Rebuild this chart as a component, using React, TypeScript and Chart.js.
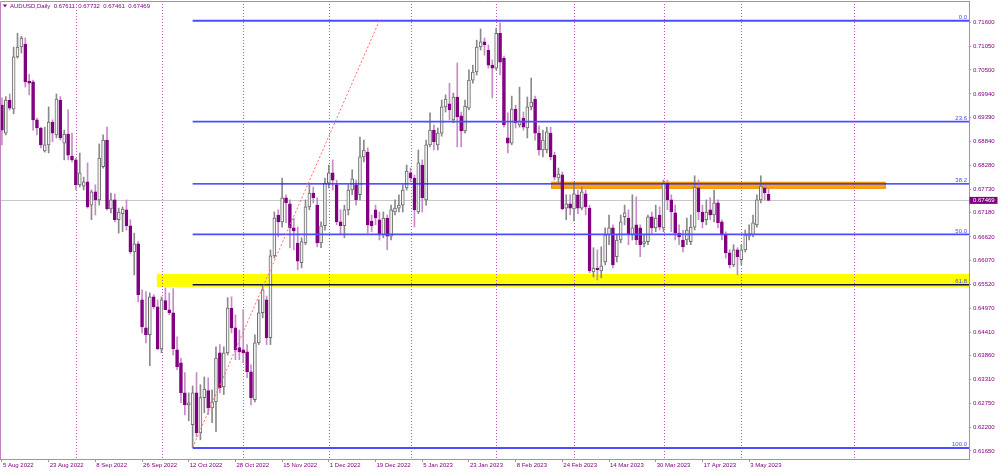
import React, { useEffect, useRef } from 'react';
import { Chart, registerables } from 'chart.js';

Chart.register(...registerables);

// ---------------- data ----------------
const symbolTitle = 'AUDUSD,Daily';
const headerValues = ['0.67611', '0.67732', '0.67461', '0.67469'];

const opens = [
  0.6968, 0.6903, 0.6980, 0.6959, 0.7080, 0.7103, 0.7110, 0.7024, 0.7022, 0.6934,
  0.6915, 0.6862, 0.6876, 0.6929, 0.6899, 0.6980, 0.6880, 0.6901, 0.6850, 0.6841,
  0.6783, 0.6780, 0.6790, 0.6736, 0.6767, 0.6748, 0.6825, 0.6887, 0.6727, 0.6748,
  0.6702, 0.6716, 0.6725, 0.6688, 0.6627, 0.6646, 0.6516, 0.6451, 0.6435, 0.6523,
  0.6500, 0.6402, 0.6514, 0.6493, 0.6486, 0.6400, 0.6370, 0.6300, 0.6272, 0.6226,
  0.6300, 0.6207, 0.6289, 0.6305, 0.6265, 0.6279, 0.6393, 0.6314, 0.6393, 0.6497,
  0.6451, 0.6405, 0.6400, 0.6395, 0.6349, 0.6284, 0.6416, 0.6486, 0.6516, 0.6428,
  0.6618, 0.6713, 0.6697, 0.6753, 0.6739, 0.6683, 0.6648, 0.6602, 0.6648, 0.6732,
  0.6764, 0.6736, 0.6648, 0.6688, 0.6787, 0.6811, 0.6783, 0.6697, 0.6688, 0.6725,
  0.6771, 0.6783, 0.6760, 0.6848, 0.6859, 0.6699, 0.6725, 0.6702, 0.6667, 0.6706,
  0.6664, 0.6720, 0.6729, 0.6736, 0.6776, 0.6811, 0.6799, 0.6720, 0.6829, 0.6748,
  0.6876, 0.6910, 0.6876, 0.6903, 0.6964, 0.6971, 0.6934, 0.6987, 0.6943, 0.6908,
  0.6961, 0.7026, 0.7045, 0.7103, 0.7115, 0.7096, 0.7061, 0.7054, 0.7135, 0.7077,
  0.6892, 0.6880, 0.6959, 0.6922, 0.6938, 0.6915, 0.6964, 0.6982, 0.6903, 0.6864,
  0.6864, 0.6903, 0.6852, 0.6799, 0.6806, 0.6729, 0.6739, 0.6727, 0.6760, 0.6729,
  0.6762, 0.6729, 0.6581, 0.6590, 0.6583, 0.6604, 0.6667, 0.6683, 0.6616, 0.6655,
  0.6709, 0.6706, 0.6667, 0.6690, 0.6683, 0.6646, 0.6651, 0.6709, 0.6683, 0.6713,
  0.6683, 0.6787, 0.6748, 0.6718, 0.6671, 0.6655, 0.6655, 0.6651, 0.6685, 0.6776,
  0.6720, 0.6702, 0.6725, 0.6713, 0.6741, 0.6697, 0.6667, 0.6625, 0.6597, 0.6632,
  0.6609, 0.6632, 0.6664, 0.6667, 0.6690, 0.6748, 0.6776, 0.67611,
];
const highs = [
  0.6985, 0.6988, 0.6994, 0.7103, 0.7135, 0.7128, 0.7124, 0.7040, 0.7026, 0.6938,
  0.6917, 0.6917, 0.6964, 0.6934, 0.6994, 0.6988, 0.6910, 0.6957, 0.6903, 0.6845,
  0.6857, 0.6801, 0.6834, 0.6771, 0.6783, 0.6878, 0.6899, 0.6917, 0.6764, 0.6762,
  0.6729, 0.6732, 0.6748, 0.6702, 0.6671, 0.6651, 0.6539, 0.6535, 0.6532, 0.6528,
  0.6516, 0.6523, 0.6544, 0.6532, 0.6542, 0.6430, 0.6381, 0.6347, 0.6300, 0.6316,
  0.6347, 0.6319, 0.6337, 0.6335, 0.6307, 0.6407, 0.6412, 0.6407, 0.6521, 0.6523,
  0.6481, 0.6446, 0.6493, 0.6412, 0.6365, 0.6435, 0.6516, 0.6551, 0.6525, 0.6632,
  0.6720, 0.6725, 0.6799, 0.6760, 0.6748, 0.6706, 0.6685, 0.6660, 0.6748, 0.6783,
  0.6778, 0.6753, 0.6697, 0.6799, 0.6829, 0.6841, 0.6794, 0.6725, 0.6736, 0.6783,
  0.6818, 0.6794, 0.6894, 0.6887, 0.6869, 0.6713, 0.6736, 0.6720, 0.6720, 0.6713,
  0.6736, 0.6748, 0.6760, 0.6783, 0.6829, 0.6822, 0.6806, 0.6864, 0.6841, 0.6887,
  0.6950, 0.6922, 0.6915, 0.6980, 0.6992, 0.7019, 0.6996, 0.7066, 0.6952, 0.6980,
  0.7050, 0.7061, 0.7119, 0.7145, 0.7124, 0.7108, 0.7073, 0.7147, 0.7159, 0.7082,
  0.6950, 0.6989, 0.6968, 0.7010, 0.6952, 0.6987, 0.7031, 0.6989, 0.6920, 0.6910,
  0.6917, 0.6917, 0.6859, 0.6822, 0.6813, 0.6760, 0.6760, 0.6790, 0.6771, 0.6778,
  0.6771, 0.6736, 0.6637, 0.6632, 0.6639, 0.6683, 0.6713, 0.6690, 0.6667, 0.6713,
  0.6736, 0.6725, 0.6760, 0.6755, 0.6690, 0.6667, 0.6713, 0.6720, 0.6736, 0.6732,
  0.6794, 0.6794, 0.6760, 0.6736, 0.6690, 0.6678, 0.6706, 0.6713, 0.6804, 0.6794,
  0.6736, 0.6748, 0.6753, 0.6771, 0.6748, 0.6702, 0.6674, 0.6632, 0.6644, 0.6637,
  0.6644, 0.6678, 0.6690, 0.6713, 0.6760, 0.6804, 0.6783, 0.67732,
];
const lows = [
  0.6876, 0.6899, 0.6957, 0.6948, 0.7077, 0.7089, 0.7010, 0.6992, 0.6910, 0.6899,
  0.6869, 0.6859, 0.6857, 0.6883, 0.6892, 0.6887, 0.6841, 0.6841, 0.6836, 0.6771,
  0.6778, 0.6771, 0.6729, 0.6702, 0.6713, 0.6736, 0.6822, 0.6725, 0.6718, 0.6697,
  0.6671, 0.6674, 0.6678, 0.6623, 0.6574, 0.6511, 0.6439, 0.6416, 0.6363, 0.6495,
  0.6400, 0.6393, 0.6493, 0.6481, 0.6388, 0.6354, 0.6277, 0.6249, 0.6235, 0.6173,
  0.6198, 0.6191, 0.6254, 0.6249, 0.6231, 0.6210, 0.6300, 0.6296, 0.6388, 0.6439,
  0.6377, 0.6377, 0.6370, 0.6335, 0.6272, 0.6279, 0.6412, 0.6474, 0.6412, 0.6412,
  0.6613, 0.6662, 0.6685, 0.6695, 0.6637, 0.6632, 0.6586, 0.6590, 0.6644, 0.6725,
  0.6741, 0.6639, 0.6637, 0.6678, 0.6776, 0.6771, 0.6690, 0.6667, 0.6660, 0.6713,
  0.6760, 0.6736, 0.6748, 0.6836, 0.6671, 0.6674, 0.6690, 0.6655, 0.6660, 0.6632,
  0.6655, 0.6713, 0.6720, 0.6720, 0.6771, 0.6790, 0.6685, 0.6716, 0.6720, 0.6736,
  0.6871, 0.6864, 0.6864, 0.6896, 0.6952, 0.6934, 0.6927, 0.6871, 0.6871, 0.6903,
  0.6957, 0.7019, 0.7038, 0.7096, 0.7084, 0.7054, 0.6985, 0.7050, 0.7038, 0.6917,
  0.6857, 0.6876, 0.6915, 0.6917, 0.6910, 0.6892, 0.6957, 0.6887, 0.6852, 0.6848,
  0.6857, 0.6841, 0.6794, 0.6787, 0.6725, 0.6702, 0.6713, 0.6699, 0.6716, 0.6725,
  0.6713, 0.6579, 0.6569, 0.6562, 0.6567, 0.6597, 0.6644, 0.6590, 0.6604, 0.6648,
  0.6690, 0.6644, 0.6655, 0.6644, 0.6616, 0.6639, 0.6644, 0.6671, 0.6674, 0.6678,
  0.6674, 0.6725, 0.6674, 0.6655, 0.6644, 0.6627, 0.6644, 0.6644, 0.6678, 0.6702,
  0.6683, 0.6690, 0.6702, 0.6697, 0.6683, 0.6655, 0.6613, 0.6590, 0.6593, 0.6574,
  0.6597, 0.6627, 0.6655, 0.6662, 0.6685, 0.6741, 0.6748, 0.67461,
];
const closes = [
  0.6910, 0.6980, 0.6961, 0.7080, 0.7103, 0.7124, 0.7022, 0.7019, 0.6934, 0.6915,
  0.6876, 0.6876, 0.6929, 0.6903, 0.6982, 0.6892, 0.6901, 0.6852, 0.6841, 0.6783,
  0.6811, 0.6790, 0.6732, 0.6767, 0.6748, 0.6845, 0.6887, 0.6727, 0.6748, 0.6702,
  0.6720, 0.6727, 0.6688, 0.6627, 0.6646, 0.6528, 0.6453, 0.6435, 0.6523, 0.6500,
  0.6402, 0.6516, 0.6493, 0.6486, 0.6402, 0.6361, 0.6300, 0.6272, 0.6277, 0.6300,
  0.6207, 0.6289, 0.6309, 0.6265, 0.6279, 0.6381, 0.6312, 0.6393, 0.6497, 0.6451,
  0.6400, 0.6395, 0.6393, 0.6349, 0.6289, 0.6416, 0.6486, 0.6539, 0.6428, 0.6618,
  0.6706, 0.6697, 0.6753, 0.6741, 0.6683, 0.6676, 0.6606, 0.6651, 0.6732, 0.6764,
  0.6753, 0.6648, 0.6688, 0.6787, 0.6811, 0.6794, 0.6697, 0.6688, 0.6725, 0.6771,
  0.6797, 0.6748, 0.6848, 0.6864, 0.6690, 0.6688, 0.6706, 0.6667, 0.6706, 0.6664,
  0.6725, 0.6729, 0.6736, 0.6771, 0.6815, 0.6799, 0.6725, 0.6834, 0.6753, 0.6876,
  0.6910, 0.6883, 0.6903, 0.6964, 0.6982, 0.6957, 0.6987, 0.6941, 0.6908, 0.6966,
  0.7026, 0.7045, 0.7103, 0.7115, 0.7108, 0.7061, 0.7054, 0.7135, 0.7068, 0.6922,
  0.6880, 0.6959, 0.6927, 0.6931, 0.6917, 0.6964, 0.6975, 0.6903, 0.6864, 0.6887,
  0.6906, 0.6848, 0.6801, 0.6808, 0.6727, 0.6739, 0.6729, 0.6762, 0.6729, 0.6767,
  0.6732, 0.6583, 0.6590, 0.6586, 0.6595, 0.6667, 0.6683, 0.6597, 0.6655, 0.6697,
  0.6718, 0.6667, 0.6683, 0.6655, 0.6644, 0.6651, 0.6709, 0.6683, 0.6706, 0.6685,
  0.6787, 0.6748, 0.6720, 0.6671, 0.6662, 0.6639, 0.6678, 0.6685, 0.6778, 0.6720,
  0.6697, 0.6720, 0.6713, 0.6741, 0.6695, 0.6667, 0.6625, 0.6597, 0.6632, 0.6616,
  0.6632, 0.6667, 0.6669, 0.6695, 0.6748, 0.6780, 0.6764, 0.67469,
];

const totalSlots = 249; // bars + empty future area
const dateTickStep = 12;
const dateTickLabels = [
  '5 Aug 2022', '23 Aug 2022', '8 Sep 2022', '26 Sep 2022', '12 Oct 2022', '28 Oct 2022',
  '15 Nov 2022', '1 Dec 2022', '19 Dec 2022', '5 Jan 2023', '23 Jan 2023', '8 Feb 2023',
  '24 Feb 2023', '14 Mar 2023', '30 Mar 2023', '17 Apr 2023', '3 May 2023',
];
const priceTicks = [
  0.716, 0.7105, 0.705, 0.6994, 0.6939, 0.6884, 0.6828, 0.6773, 0.6718, 0.6662,
  0.6607, 0.6552, 0.6497, 0.6441, 0.6386, 0.6331, 0.6275, 0.622, 0.6165,
];
const monthStartBars = [19, 41, 62, 84, 105, 127, 147, 170, 190, 219];

const fibHigh = 0.7164;
const fibLow = 0.6172;
const fibLevels = [0, 23.6, 38.2, 50, 61.8, 100];
const fibStartBar = 49;

const trendStart = { bar: 49, price: 0.6173 };
const trendEnd = { bar: 97, price: 0.7164 };

const supportZone = { fromBar: 39.8, top: 0.6576, bottom: 0.6546 };
const resistanceZone = { fromBar: 141.1, toBar: 227.1, top: 0.6790, bottom: 0.6774 };
const lastPrice = 0.67469;

const yMin = 0.61464;
const yMax = 0.72099;

// ---------------- styling ----------------
const PURPLE = '#800080';
const AXIS = '#c080c0';
const FONT = 'Liberation Sans';

const isBull = opens.map((o, i) => closes[i] >= o);
const categories = Array.from({ length: totalSlots }, (_, i) => String(i));
const wickData = lows.map((l, i) => [l, highs[i]]);
const bodyData = opens.map((o, i) => [Math.min(o, closes[i]), Math.max(o, closes[i])]);

const overlayPlugin = {
  id: 'overlay',
  beforeDatasetsDraw(chart: any) {
    const { ctx, chartArea: a, scales } = chart;
    const x = scales.x, y = scales.y;
    ctx.save();
    ctx.beginPath();
    ctx.rect(a.left, a.top, a.right - a.left, a.bottom - a.top);
    ctx.clip();
    // support zone (yellow)
    const sx = x.getPixelForValue(supportZone.fromBar);
    const sy1 = y.getPixelForValue(supportZone.top);
    const sy2 = y.getPixelForValue(supportZone.bottom);
    ctx.fillStyle = '#ffff00';
    ctx.fillRect(sx, sy1, a.right - sx, sy2 - sy1);
    // resistance zone (orange)
    const rx1 = x.getPixelForValue(resistanceZone.fromBar);
    const rx2 = x.getPixelForValue(resistanceZone.toBar);
    const ry1 = y.getPixelForValue(resistanceZone.top);
    const ry2 = y.getPixelForValue(resistanceZone.bottom);
    ctx.fillStyle = '#ffa500';
    ctx.fillRect(rx1, ry1, rx2 - rx1, ry2 - ry1);
    ctx.strokeStyle = '#e8901a';
    ctx.lineWidth = 1;
    ctx.strokeRect(rx1 + 0.5, ry1 + 0.5, rx2 - rx1 - 1, ry2 - ry1 - 1);
    // current price line
    const py = Math.round(y.getPixelForValue(lastPrice)) + 0.5;
    ctx.strokeStyle = '#c8c8c8';
    ctx.beginPath();
    ctx.moveTo(a.left, py);
    ctx.lineTo(a.right, py);
    ctx.stroke();
    // month separators
    ctx.strokeStyle = '#c050c0';
    ctx.setLineDash([1, 2]);
    monthStartBars.forEach((b) => {
      const px = Math.round(x.getPixelForValue(b)) + 0.5;
      ctx.beginPath();
      ctx.moveTo(px, a.top);
      ctx.lineTo(px, a.bottom);
      ctx.stroke();
    });
    ctx.restore();
  },
  afterDatasetsDraw(chart: any) {
    const { ctx, chartArea: a, scales } = chart;
    const x = scales.x, y = scales.y;
    ctx.save();
    ctx.beginPath();
    ctx.rect(a.left, a.top, a.right - a.left, a.bottom - a.top);
    ctx.clip();
    const fx = x.getPixelForValue(fibStartBar);
    fibLevels.forEach((lv) => {
      const price = fibHigh - (fibHigh - fibLow) * lv / 100;
      const ly = y.getPixelForValue(price);
      const dark = lv === 61.8;
      ctx.strokeStyle = dark ? '#10104a' : lv === 38.2 ? '#1a1aff' : '#4d4dff';
      ctx.lineWidth = dark ? 1.4 : lv === 38.2 ? 1.2 : 1.8;
      ctx.beginPath();
      ctx.moveTo(fx, ly);
      ctx.lineTo(a.right, ly);
      ctx.stroke();
      ctx.fillStyle = '#4a4aff';
      ctx.font = `6px "${FONT}"`;
      ctx.textAlign = 'right';
      ctx.textBaseline = 'alphabetic';
      ctx.fillText(lv.toFixed(1), a.right - 2, ly - 1.5);
    });
    // trend line
    ctx.strokeStyle = '#ff6a6a';
    ctx.lineWidth = 1;
    ctx.setLineDash([2, 2]);
    ctx.beginPath();
    ctx.moveTo(x.getPixelForValue(trendStart.bar), y.getPixelForValue(trendStart.price));
    ctx.lineTo(x.getPixelForValue(trendEnd.bar), y.getPixelForValue(trendEnd.price));
    ctx.stroke();
    ctx.restore();
  },
  afterDraw(chart: any) {
    const { ctx, chartArea: a, scales } = chart;
    const y = scales.y;
    ctx.save();
    // top & left border
    ctx.strokeStyle = AXIS;
    ctx.lineWidth = 1;
    ctx.beginPath();
    ctx.moveTo(a.left + 0.5, a.bottom);
    ctx.lineTo(a.left + 0.5, a.top + 0.5);
    ctx.lineTo(a.right, a.top + 0.5);
    ctx.stroke();
    // header
    ctx.fillStyle = PURPLE;
    ctx.beginPath();
    ctx.moveTo(3, 4.5);
    ctx.lineTo(7, 4.5);
    ctx.lineTo(5, 7.5);
    ctx.closePath();
    ctx.fill();
    ctx.font = `6px "${FONT}"`;
    ctx.textAlign = 'left';
    ctx.textBaseline = 'middle';
    ctx.fillText(symbolTitle + '  ' + headerValues.join('  '), 10, 6.5);
    // last price box
    const py = y.getPixelForValue(lastPrice);
    ctx.fillStyle = PURPLE;
    ctx.fillRect(a.right + 0.5, py - 3.5, 28, 7);
    ctx.fillStyle = '#ffffff';
    ctx.fillText(lastPrice.toFixed(5), a.right + 4, py + 0.3);
    ctx.restore();
  },
};

export default function App() {
  const ref = useRef<HTMLCanvasElement>(null);
  useEffect(() => {
    const canvas = ref.current as HTMLCanvasElement;
    const chart = new Chart(canvas, {
      type: 'bar',
      data: {
        labels: categories,
        datasets: [
          {
            label: 'body',
            data: bodyData as any,
            backgroundColor: isBull.map((b) => (b ? '#f4f4f4' : PURPLE)),
            borderColor: isBull.map((b) => (b ? '#6b6b6b' : PURPLE)),
            borderWidth: 1,
            borderSkipped: false,
            barThickness: 3,
            minBarLength: 1,
            grouped: false,
            order: 0,
          } as any,
          {
            label: 'wick',
            data: wickData as any,
            backgroundColor: isBull.map((b) => (b ? '#8a8a8a' : '#c78bc7')),
            borderWidth: 0,
            barThickness: 1,
            grouped: false,
            order: 1,
          } as any,
        ],
      },
      options: {
        animation: false,
        responsive: false,
        maintainAspectRatio: false,
        devicePixelRatio: 1,
        events: [],
        layout: { padding: { top: 1, left: 0, right: 0, bottom: 0 } },
        plugins: { legend: { display: false }, tooltip: { enabled: false }, title: { display: false } },
        scales: {
          x: {
            type: 'category',
            offset: true,
            grid: {
              display: true,
              drawOnChartArea: false,
              drawTicks: true,
              tickLength: 3,
              offset: false,
              color: 'rgba(0,0,0,0)',
              tickColor: (c: any) =>
                c.index % dateTickStep === 0 && c.index / dateTickStep < dateTickLabels.length ? AXIS : 'rgba(0,0,0,0)',
            },
            border: { display: true, color: AXIS },
            ticks: {
              autoSkip: false,
              maxRotation: 0,
              minRotation: 0,
              align: 'start',
              padding: 0,
              labelOffset: 1,
              color: PURPLE,
              font: { family: FONT, size: 6 },
              callback: (_v: any, i: number) =>
                i % dateTickStep === 0 && dateTickLabels[i / dateTickStep] ? dateTickLabels[i / dateTickStep] : '',
            },
            afterFit: (s: any) => {
              s.height = 13;
              s.paddingLeft = 0;
              s.paddingRight = 0;
            },
          } as any,
          y: {
            type: 'linear',
            position: 'right',
            min: yMin,
            max: yMax,
            afterBuildTicks: (s: any) => {
              s.ticks = priceTicks.map((v) => ({ value: v }));
            },
            grid: { display: true, drawOnChartArea: false, tickLength: 2, color: 'rgba(0,0,0,0)', tickColor: AXIS },
            border: { display: true, color: AXIS },
            ticks: {
              autoSkip: false,
              padding: 2,
              color: PURPLE,
              font: { family: FONT, size: 6 },
              callback: (v: any) => Number(v).toFixed(5),
            },
            afterFit: (s: any) => {
              s.width = 31;
              s.paddingTop = 0;
              s.paddingBottom = 0;
            },
          } as any,
        },
      },
      plugins: [overlayPlugin],
    });
    return () => chart.destroy();
  }, []);

  return (
    <div style={{ position: 'fixed', left: 0, top: 0, width: 1000, height: 472, background: '#ffffff' }}>
      <canvas ref={ref} width={1000} height={472} style={{ display: 'block', width: 1000, height: 472 }} />
    </div>
  );
}
